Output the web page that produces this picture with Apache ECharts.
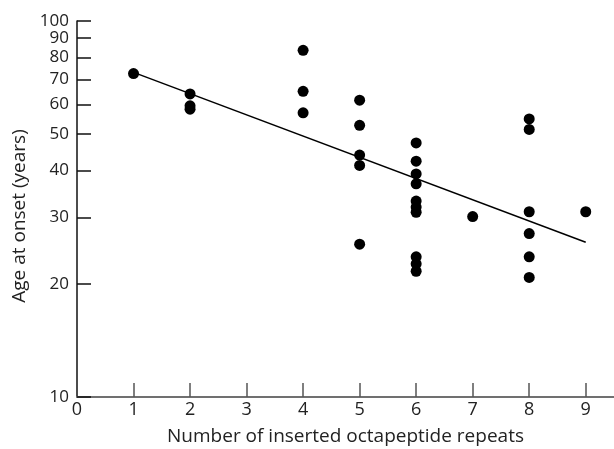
<!DOCTYPE html>
<html><head><meta charset="utf-8">
<script src="https://cdn.jsdelivr.net/npm/echarts@6/dist/echarts.min.js"></script>
<style>html,body{margin:0;padding:0;background:#fff}#c{width:614px;height:449px}</style>
</head><body><div id="c"></div>
<script>
const repeats = [1, 2, 2, 2, 4, 4, 4, 5, 5, 5, 5, 5, 6, 6, 6, 6, 6, 6, 6, 6, 6, 6, 7, 8, 8, 8, 8, 8, 8, 9];
const ageAtOnset = [72.5, 64, 59.5, 58.3, 83.6, 65, 57, 61.6, 52.8, 44, 41.3, 25.5, 47.4, 42.4, 39.2, 36.9, 33.2, 32, 31, 23.6, 22.6, 21.6, 30.2, 54.9, 51.5, 31.1, 27.2, 23.6, 20.8, 31.1];
const fitX = [1, 9];
const fitY = [73, 25.8];
const yTicks = [10, 20, 30, 40, 50, 60, 70, 80, 90, 100];
const xTickLabels = [0, 1, 2, 3, 4, 5, 6, 7, 8, 9];
const xTickMarks = [1, 2, 3, 4, 5, 6, 7, 8, 9];

const font = '"Open Sans", "DejaVu Sans", sans-serif';
const chart = echarts.init(document.getElementById('c'), null, {renderer: 'canvas'});
chart.setOption({
  animation: false,
  backgroundColor: '#fff',
  grid: {left: 77, right: 0, top: 21, bottom: 52, containLabel: false, outerBoundsMode: 'none'},
  xAxis: {
    type: 'value', min: 0, max: 9.5,
    name: 'Number of inserted octapeptide repeats',
    nameLocation: 'middle', nameGap: 30,
    nameTextStyle: {fontFamily: font, fontSize: 19, color: '#222'},
    axisLine: {lineStyle: {color: '#707070', width: 2}},
    axisTick: {inside: true, length: 14, customValues: xTickMarks, lineStyle: {color: '#555', width: 1.5}},
    axisLabel: {customValues: xTickLabels, fontFamily: font, fontSize: 18, color: '#222', margin: 4, hideOverlap: false},
    splitLine: {show: false}
  },
  yAxis: {
    type: 'log', logBase: 10, min: 10, max: 100.02,
    name: 'Age at onset (years)',
    nameLocation: 'middle', nameGap: 45, nameRotate: 90,
    nameTextStyle: {fontFamily: font, fontSize: 19, color: '#222', padding: [0, 14, 0, 0]},
    axisLine: {show: true, lineStyle: {color: '#111', width: 1.5}},
    axisTick: {inside: true, length: 14, customValues: yTicks, lineStyle: {color: '#111', width: 1.5}},
    axisLabel: {customValues: yTicks, fontFamily: font, fontSize: 17, lineHeight: 16, color: '#222', margin: 8,
      hideOverlap: false, showMaxLabel: true, showMinLabel: true, formatter: v => String(Math.round(v))},
    splitLine: {show: false}
  },
  series: [
    {
      type: 'line', data: fitX.map((x, i) => [x, fitY[i]]),
      symbol: 'none', lineStyle: {color: '#000', width: 1.5}, z: 2
    },
    {
      type: 'scatter', data: repeats.map((x, i) => [x, ageAtOnset[i]]),
      symbol: 'circle', symbolSize: 11, itemStyle: {color: '#000', opacity: 1}, z: 3
    }
  ]
});
</script></body></html>
